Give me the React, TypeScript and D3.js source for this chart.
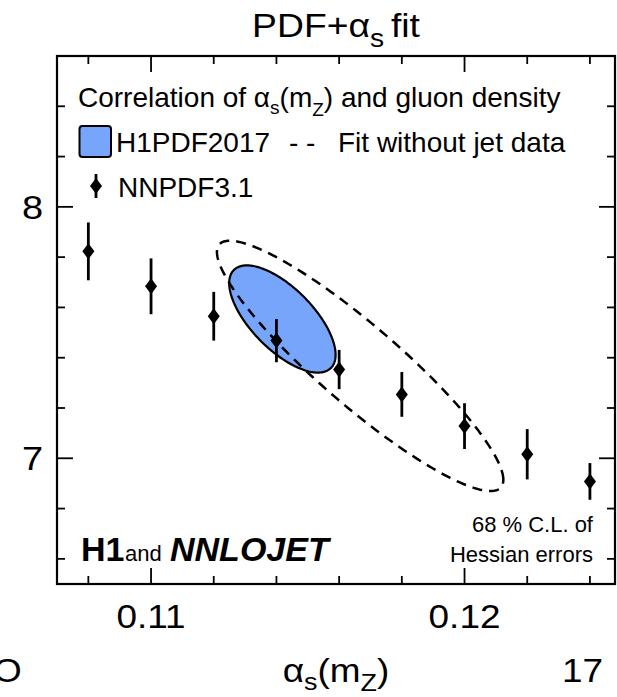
import React from 'react';
import * as d3 from 'd3';

const W = 617;
const H = 697;

// axis ticks
const xTicks = [0.108, 0.11, 0.112, 0.114, 0.116, 0.118, 0.12, 0.122, 0.124];
const xMajorTicks = [0.11, 0.12];
const xTickLabels = ['0.11', '0.12'];
const yTicks = [6.6, 6.8, 7.0, 7.2, 7.4, 7.6, 7.8, 8.0, 8.2, 8.4];
const yMajorTicks = [7, 8];
const yTickLabels = ['7', '8'];

// NNPDF3.1 points
const nnpdfAlphaS = [0.108, 0.11, 0.112, 0.114, 0.116, 0.118, 0.12, 0.122, 0.124];
const nnpdfGluon = [7.823, 7.684, 7.565, 7.468, 7.353, 7.254, 7.128, 7.016, 6.908];
const nnpdfErr = [0.115, 0.111, 0.097, 0.086, 0.078, 0.089, 0.091, 0.1, 0.073];

// correlation ellipses: [H1PDF2017, Fit without jet data]
const ellipseNames = ['H1PDF2017', 'Fit without jet data'];
const ellipseAlphaS = [0.11419, 0.11667];
const ellipseGluon = [7.554, 7.3675];
const ellipseSigmaAlphaS = [0.001697, 0.004568];
const ellipseSigmaGluon = [0.2132, 0.4978];
const ellipseRho = [-0.667, -0.91];

const FONT = '"Liberation Sans", Arial, Helvetica, sans-serif';

export default function App() {
  const x = d3.scaleLinear().domain([0.107, 0.1248]).range([57, 615]);
  const y = d3.scaleLinear().domain([6.5, 8.6]).range([584, 56]);
  const [x0, x1] = x.range();
  const [y0, y1] = y.range();

  const ellipsePath = (i: number) => {
    const n = 240;
    const rho = ellipseRho[i];
    const pts: [number, number][] = d3.range(n).map((k) => {
      const t = (2 * Math.PI * k) / n;
      const a = ellipseAlphaS[i] + ellipseSigmaAlphaS[i] * Math.cos(t);
      const g = ellipseGluon[i] + ellipseSigmaGluon[i] * (rho * Math.cos(t) + Math.sqrt(1 - rho * rho) * Math.sin(t));
      return [x(a), y(g)];
    });
    return d3.line().curve(d3.curveLinearClosed)(pts) as string;
  };

  const diamond = (cx: number, cy: number) =>
    `M${cx},${cy - 8}L${cx + 6},${cy}L${cx},${cy + 8}L${cx - 6},${cy}Z`;

  const isMajorX = (v: number) => xMajorTicks.some((m) => Math.abs(m - v) < 1e-9);
  const isMajorY = (v: number) => yMajorTicks.some((m) => Math.abs(m - v) < 1e-9);

  return (
    <svg width={W} height={H} style={{ position: 'absolute', left: 0, top: 0, background: '#fff' }} fontFamily={FONT}>
      <rect x={0} y={0} width={W} height={H} fill="#fff" />
      {/* title */}
      <text transform="translate(336,37) scale(1.13,1)" textAnchor="middle" fontSize={33}>
        PDF+<tspan>α</tspan>
        <tspan dy={10} fontSize={25}>s</tspan>
        <tspan dy={-10} dx={6}>fit</tspan>
      </text>

      {/* ellipses */}
      <path d={ellipsePath(0)} fill="#76a5fb" stroke="#000" strokeWidth={2.2} />
      <path d={ellipsePath(1)} fill="none" stroke="#000" strokeWidth={2.5} strokeDasharray="10,7" />

      {/* NNPDF points */}
      {nnpdfAlphaS.map((a, i) => (
        <g key={i}>
          <line x1={x(a)} x2={x(a)} y1={y(nnpdfGluon[i] + nnpdfErr[i])} y2={y(nnpdfGluon[i] - nnpdfErr[i])} stroke="#000" strokeWidth={2.8} />
          <path d={diamond(x(a), y(nnpdfGluon[i]))} fill="#000" />
        </g>
      ))}

      {/* frame */}
      <rect x={x0} y={y1} width={x1 - x0} height={y0 - y1} fill="none" stroke="#000" strokeWidth={2.2} />
      {xTicks.map((v) => {
        const len = isMajorX(v) ? 16 : 8;
        return (
          <g key={'xt' + v}>
            <line x1={x(v)} x2={x(v)} y1={y0} y2={y0 - len} stroke="#000" strokeWidth={1.8} />
            <line x1={x(v)} x2={x(v)} y1={y1} y2={y1 + len} stroke="#000" strokeWidth={1.8} />
          </g>
        );
      })}
      {yTicks.map((v) => {
        const len = isMajorY(v) ? 16 : 8;
        return (
          <g key={'yt' + v}>
            <line x1={x0} x2={x0 + len} y1={y(v)} y2={y(v)} stroke="#000" strokeWidth={1.8} />
            <line x1={x1} x2={x1 - len} y1={y(v)} y2={y(v)} stroke="#000" strokeWidth={1.8} />
          </g>
        );
      })}
      {xMajorTicks.map((v, i) => (
        <text key={'xl' + v} transform={`translate(${x(v)},628) scale(1.12,1)`} textAnchor="middle" fontSize={33}>
          {xTickLabels[i]}
        </text>
      ))}
      {yMajorTicks.map((v, i) => (
        <text key={'yl' + v} transform={`translate(43,${y(v) + 12}) scale(1.15,1)`} textAnchor="end" fontSize={33}>
          {yTickLabels[i]}
        </text>
      ))}

      {/* axis title */}
      <text transform="translate(336,682) scale(1.12,1)" textAnchor="middle" fontSize={33}>
        α<tspan dy={8} fontSize={24}>s</tspan>
        <tspan dy={-8}>(m</tspan>
        <tspan dy={9} fontSize={24}>Z</tspan>
        <tspan dy={-9}>)</tspan>
      </text>
      <text transform="translate(603,682) scale(1.12,1)" textAnchor="end" fontSize={33}>17</text>
      <text transform="translate(-7,682) scale(1.12,1)" fontSize={33}>O</text>

      {/* legend */}
      <text x={78} y={107} fontSize={28}>
        Correlation of α<tspan dy={7} fontSize={19}>s</tspan>
        <tspan dy={-7}>(m</tspan>
        <tspan dy={9} fontSize={19}>Z</tspan>
        <tspan dy={-9}>) and gluon density</tspan>
      </text>
      <rect x={79.5} y={126} width={31.5} height={31} rx={3} fill="#76a5fb" stroke="#000" strokeWidth={2} />
      <text x={116} y={152} fontSize={28}>{ellipseNames[0]}</text>
      <text x={289} y={152} fontSize={28}>- -</text>
      <text x={338} y={152} fontSize={28}>{ellipseNames[1]}</text>
      <line x1={96} x2={96} y1={174} y2={198} stroke="#000" strokeWidth={2.8} />
      <path d={diamond(96, 186)} fill="#000" />
      <text x={118} y={197} fontSize={28}>NNPDF3.1</text>

      {/* bottom labels */}
      <text x={81} y={561} fontSize={34} fontWeight="bold">H1</text>
      <text x={125} y={561} fontSize={22}>and</text>
      <text x={170} y={561} fontSize={34} fontWeight="bold" fontStyle="italic">NNLOJET</text>
      <text x={593} y={532} fontSize={22} textAnchor="end">68 % C.L. of</text>
      <text x={593} y={562} fontSize={22} textAnchor="end">Hessian errors</text>
    </svg>
  );
}
